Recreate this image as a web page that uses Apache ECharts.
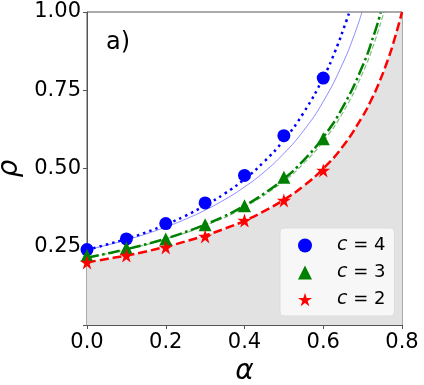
<!DOCTYPE html>
<html>
<head>
<meta charset="utf-8">
<script src="https://cdn.jsdelivr.net/npm/echarts@6/dist/echarts.min.js"></script>
<style>
html, body { margin: 0; padding: 0; background: #fff; }
#main { width: 424px; height: 385px; }
</style>
</head>
<body>
<div id="main"></div>
<script>
// 模拟点 (alpha, p)
var alphaPts = [0, 0.1, 0.2, 0.3, 0.4, 0.5, 0.6];
var simC4 = [0.241, 0.275, 0.324, 0.390, 0.478, 0.605, 0.789];
var simC3 = [0.222, 0.246, 0.275, 0.320, 0.381, 0.472, 0.595];
var simC2 = [0.200, 0.222, 0.248, 0.283, 0.334, 0.398, 0.494];

// 理论曲线
var c4DotAlpha = [0, 0.05, 0.1, 0.15, 0.2, 0.25, 0.3, 0.35, 0.4, 0.45, 0.5, 0.55, 0.6, 0.63, 0.66, 0.665];
var c4DotP     = [0.240, 0.257, 0.275, 0.296, 0.321, 0.349, 0.382, 0.420, 0.466, 0.522, 0.591, 0.678, 0.790, 0.874, 0.976, 0.995];
var c4ThinAlpha = [0, 0.05, 0.1, 0.15, 0.2, 0.25, 0.3, 0.35, 0.4, 0.45, 0.5, 0.55, 0.6, 0.65, 0.68, 0.698];
var c4ThinP     = [0.240, 0.255, 0.272, 0.291, 0.313, 0.338, 0.367, 0.401, 0.441, 0.489, 0.548, 0.621, 0.714, 0.837, 0.931, 0.998];
var c3DashDotAlpha = [0, 0.05, 0.1, 0.15, 0.2, 0.25, 0.3, 0.35, 0.4, 0.45, 0.5, 0.55, 0.6, 0.65, 0.7, 0.73, 0.746];
var c3DashDotP     = [0.215, 0.228, 0.242, 0.258, 0.276, 0.297, 0.321, 0.348, 0.381, 0.420, 0.467, 0.526, 0.600, 0.697, 0.828, 0.932, 0.998];
var c3ThinAlpha = [0, 0.1, 0.2, 0.3, 0.4, 0.5, 0.55, 0.6, 0.65, 0.7, 0.73, 0.754];
var c3ThinP     = [0.215, 0.241, 0.275, 0.318, 0.376, 0.460, 0.516, 0.587, 0.679, 0.805, 0.903, 1.000];
var c2Alpha = [0, 0.05, 0.1, 0.15, 0.2, 0.25, 0.3, 0.35, 0.4, 0.45, 0.5, 0.55, 0.6, 0.65, 0.7, 0.72, 0.74, 0.76, 0.78, 0.8];
var c2P     = [0.200, 0.211, 0.222, 0.235, 0.250, 0.267, 0.286, 0.308, 0.333, 0.364, 0.400, 0.444, 0.500, 0.571, 0.667, 0.714, 0.769, 0.833, 0.909, 1.000];

var xTicks = [0, 0.2, 0.4, 0.6, 0.8];
var yTicks = [0.25, 0.5, 0.75, 1.0];

function pairs(xs, ys) {
    return xs.map(function (x, i) { return [x, ys[i]]; });
}

var starPath = 'path://M50,0L61.2,34.6L97.6,34.5L68.1,55.9L79.4,90.5L50,69L20.6,90.5L31.9,55.9L2.4,34.5L38.8,34.6Z';
var font = 'DejaVu Sans';

var chart = echarts.init(document.getElementById('main'));
var option = {
    animation: false,
    title: {
        text: 'a)',
        left: 101, top: 26,
        textStyle: { fontFamily: font, fontSize: 24, fontWeight: 'normal', color: '#000' }
    },
    grid: {
        left: 87, right: 22, top: 12, bottom: 60,
        outerBoundsMode: 'none', containLabel: false,
        show: true, borderColor: '#555', borderWidth: 1
    },
    legend: {
        orient: 'vertical',
        left: 280, top: 228,
        data: ['c = 4', 'c = 3', 'c = 2'],
        backgroundColor: 'rgba(250,250,250,0.9)',
        borderColor: '#ddd', borderWidth: 1, borderRadius: 4,
        padding: [7, 9, 6, 18],
        itemWidth: 14, itemHeight: 14, itemGap: 6,
        formatter: function (n) { return '{it|c}' + n.slice(1); },
        textStyle: {
            fontFamily: font, fontSize: 18, color: '#000', lineHeight: 21,
            padding: [0, 0, 0, 20],
            rich: { it: { fontFamily: font, fontSize: 19, fontStyle: 'italic', color: '#000' } }
        }
    },
    xAxis: {
        type: 'value', min: 0, max: 0.8, interval: 0.2,
        name: 'α', nameLocation: 'middle', nameGap: 24,
        nameTextStyle: { fontFamily: font, fontSize: 28, fontStyle: 'italic', color: '#000' },
        axisLine: { lineStyle: { color: '#555' } },
        axisTick: { show: true, length: 4, lineStyle: { color: '#555' } },
        axisLabel: {
            fontFamily: font, fontSize: 21, color: '#000', margin: 7,
            formatter: function (v) { return v.toFixed(1); }
        },
        splitLine: { show: false }
    },
    yAxis: {
        type: 'value', min: 0, max: 1, interval: 0.25,
        name: 'ρ', nameLocation: 'middle', nameGap: 52, nameRotate: 90,
        nameTextStyle: { fontFamily: font, fontSize: 28, fontStyle: 'italic', color: '#000' },
        axisLine: { show: true, lineStyle: { color: '#555' } },
        axisTick: { show: true, length: 4, lineStyle: { color: '#555' } },
        axisLabel: {
            fontFamily: font, fontSize: 21, color: '#000', margin: 6,
            formatter: function (v) { return yTicks.indexOf(v) >= 0 ? v.toFixed(2) : ''; }
        },
        splitLine: { show: false }
    },
    series: [
        {   // 红色理论线 + 灰色填充
            type: 'line', smooth: true, symbol: 'none', silent: true, z: 1,
            data: pairs(c2Alpha, c2P),
            lineStyle: { color: '#ff0000', width: 2.5, type: [9, 4] },
            areaStyle: { color: '#e2e2e2', opacity: 1 }
        },
        {
            type: 'line', smooth: true, symbol: 'none', silent: true, z: 2,
            data: pairs(c3ThinAlpha, c3ThinP),
            lineStyle: { color: 'rgba(0,128,0,0.5)', width: 1.2, type: [5, 2.5] }
        },
        {
            type: 'line', smooth: true, symbol: 'none', silent: true, z: 2,
            data: pairs(c3DashDotAlpha, c3DashDotP),
            lineStyle: { color: '#008000', width: 2.5, type: [12, 3.5, 2.5, 3.5] }
        },
        {
            type: 'line', smooth: true, symbol: 'none', silent: true, z: 2,
            data: pairs(c4ThinAlpha, c4ThinP),
            lineStyle: { color: 'rgba(0,0,255,0.45)', width: 1 }
        },
        {
            type: 'line', smooth: true, symbol: 'none', silent: true, z: 2,
            data: pairs(c4DotAlpha, c4DotP),
            lineStyle: { color: '#0000ff', width: 2.5, type: [2.5, 4] }
        },
        {
            name: 'c = 4', type: 'scatter', symbol: 'circle', symbolSize: 13, z: 5,
            data: pairs(alphaPts, simC4),
            itemStyle: { color: '#0000ff', opacity: 1 }
        },
        {
            name: 'c = 3', type: 'scatter', symbol: 'triangle', symbolSize: 13, z: 5,
            data: pairs(alphaPts, simC3),
            itemStyle: { color: '#008000', opacity: 1 }
        },
        {
            name: 'c = 2', type: 'scatter', symbol: starPath, symbolSize: 14, z: 5,
            data: pairs(alphaPts, simC2),
            itemStyle: { color: '#ff0000', opacity: 1 }
        }
    ]
};
chart.setOption(option);
window.addEventListener('resize', chart.resize);
</script>
</body>
</html>
